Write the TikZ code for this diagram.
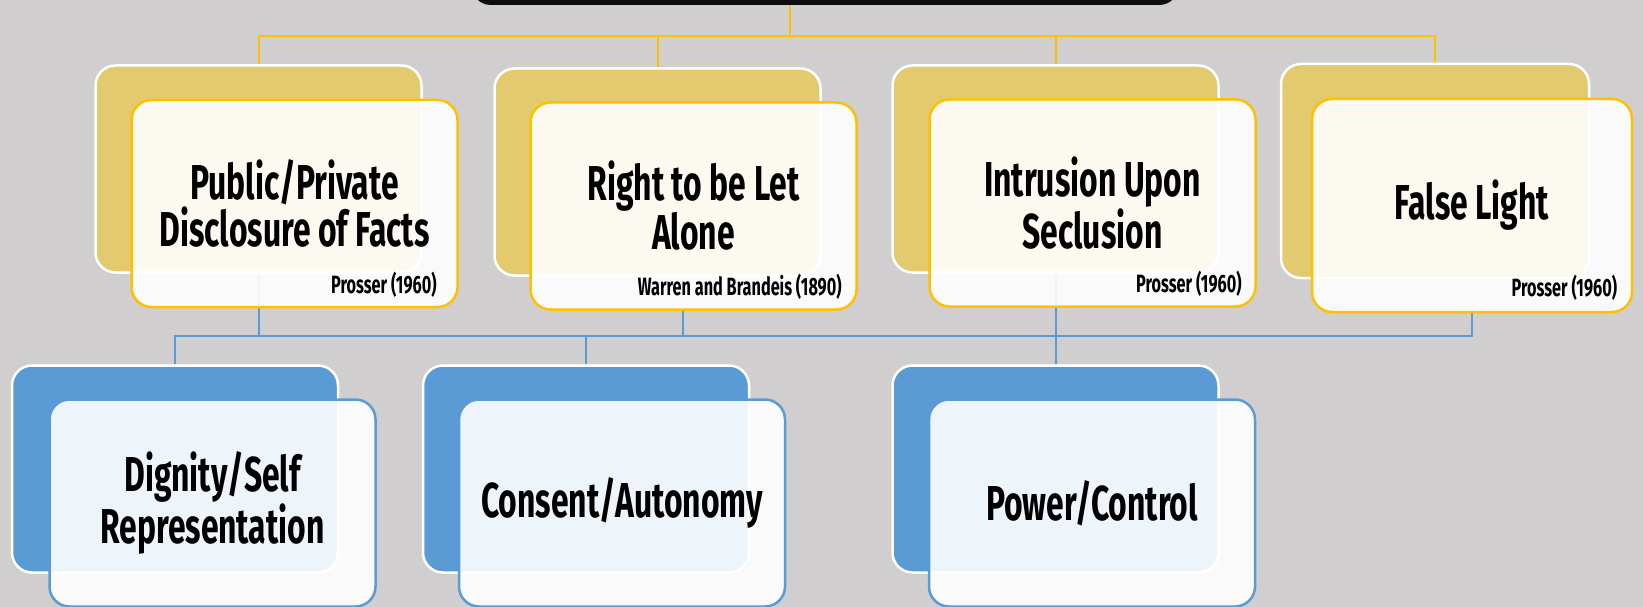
\documentclass[tikz,border=0pt]{standalone}
\usepackage{fontspec}
\setmainfont{Fira Sans}[FakeStretch=0.65]
\usetikzlibrary{backgrounds}

\definecolor{panegray}{HTML}{D0CECE}
\definecolor{goldfill}{HTML}{E3CA6E}
\definecolor{goldline}{HTML}{FFC000}
\definecolor{bluefill}{HTML}{5B9BD5}
\definecolor{rootfill}{HTML}{0D0D0D}

\begin{document}
\begin{tikzpicture}[x=1pt, y=1pt]
		\tikzstyle{backbox} = [rectangle, draw=white, line width=2.5pt, rounded corners=20pt, minimum width=326pt, minimum height=207pt]
		\tikzstyle{frontbox} = [rectangle, fill=white, fill opacity=0.9, text opacity=1, line width=2.5pt, rounded corners=20pt, minimum width=326pt, minimum height=207pt, align=center, font=\bfseries\fontsize{49}{42}\selectfont]
		\tikzstyle{gold_back} = [backbox, fill=goldfill]
		\tikzstyle{gold_front} = [frontbox, draw=goldline]
		\tikzstyle{blue_back} = [backbox, fill=bluefill]
		\tikzstyle{blue_front} = [frontbox, draw=bluefill]
		\tikzstyle{cite} = [anchor=base east, inner sep=0pt, font=\bfseries\fontsize{25}{27}\selectfont]
		\tikzstyle{ylink} = [draw=goldline, line width=2pt]
		\tikzstyle{blink} = [draw=bluefill, line width=2pt]

		\useasboundingbox (0,0) rectangle (1643,-607);

		% Root box, cut off at the top
		\node (RT) [rectangle, fill=rootfill, rounded corners=20pt, minimum width=708pt, minimum height=100pt] at (825,45) {};

		% Top row
		\node (T1b) [gold_back] at (258.5,-169) {};
		\node (T1) [gold_front] at (294.5,-203.5) {Public/Private\\Disclosure of Facts};
		\node (C1) [cite] at ([xshift=-22pt,yshift=15pt]T1.south east) {Prosser (1960)};

		\node (T2b) [gold_back] at (657.5,-172) {};
		\node (T2) [gold_front] at (693.5,-206) {Right to be Let\\Alone};
		\node (C2) [cite] at ([xshift=-16pt,yshift=15pt]T2.south east) {Warren and Brandeis (1890)};

		\node (T3b) [gold_back] at (1055.5,-169) {};
		\node (T3) [gold_front] at (1092.5,-203) {Intrusion Upon\\Seclusion};
		\node (C3) [cite] at ([xshift=-15pt,yshift=15pt]T3.south east) {Prosser (1960)};

		\node (T4b) [gold_back, minimum width=308pt, minimum height=214pt] at (1435,-171) {};
		\node (T4) [gold_front, minimum width=320pt, minimum height=213pt] at (1472,-205.5) {False Light};
		\node (C4) [cite] at ([xshift=-16pt,yshift=17pt]T4.south east) {Prosser (1960)};

		% Bottom row
		\node (B1b) [blue_back] at (175,-469) {};
		\node (B1) [blue_front] at (212.5,-503) {Dignity/Self\\Representation};

		\node (B2b) [blue_back] at (586,-469) {};
		\node (B2) [blue_front] at (622,-503) {Consent/Autonomy};

		\node (B3b) [blue_back] at (1055.5,-469) {};
		\node (B3) [blue_front] at (1092,-503) {Power/Control};

		\begin{scope}[on background layer]
		\fill[panegray] (0,0) rectangle (1643,-607);
		% Yellow links
		\coordinate (YJ) at (790,-36);
		\draw[ylink] (RT.south -| YJ) -- (YJ);
		\foreach \n in {T1b,T2b,T3b,T4b}
		\draw[ylink] (YJ) -| (\n.north);
		% Blue links
		\coordinate (BJ) at (1055.5,-336);
		\draw[blink] (T1b.south) |- (BJ);
		\draw[blink] ([xshift=-11pt]T2.south) |- (BJ);
		\draw[blink] (T3b.south) -- (B3b.north);
		\draw[blink] (T4.south) |- (BJ);
		\draw[blink] (BJ) -| (B1b.north);
		\draw[blink] (BJ) -| (B2b.north);
		\end{scope}
	\end{tikzpicture}
\end{document}
